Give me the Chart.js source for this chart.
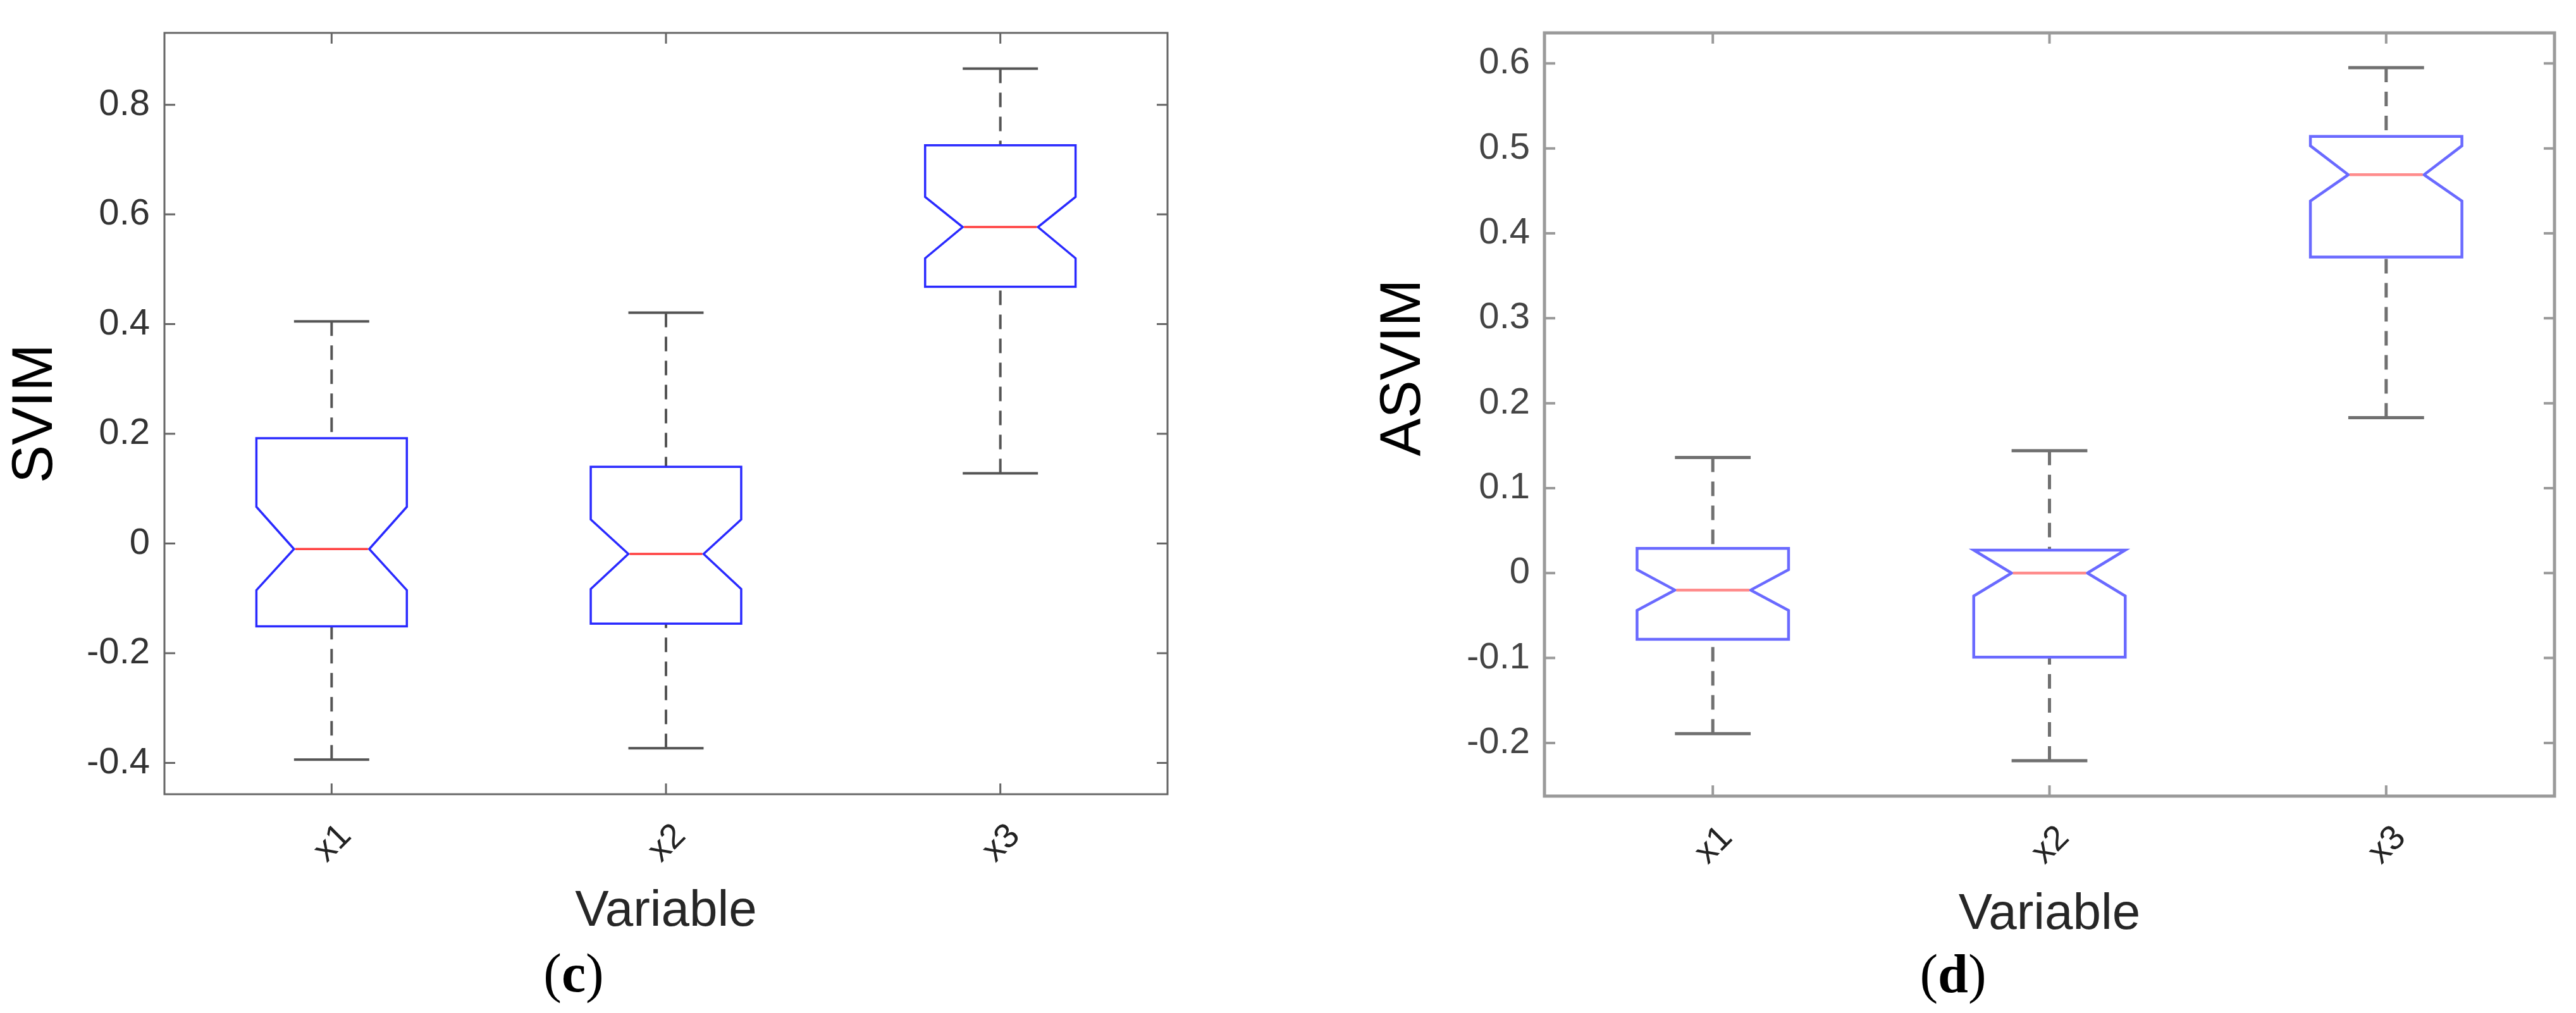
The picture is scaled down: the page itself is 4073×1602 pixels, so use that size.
<!DOCTYPE html>
<html>
<head>
<meta charset="utf-8">
<script src="https://cdn.jsdelivr.net/npm/chart.js@4.4.1/dist/chart.umd.min.js"></script>
<style>
  html, body { margin: 0; padding: 0; background: #fff; }
  body { width: 4073px; height: 1602px; position: relative; overflow: hidden; }
  canvas { position: absolute; top: 0; }
  #panelC { left: 0; }
  #panelD { left: 2040px; }
</style>
</head>
<body>
<canvas id="panelC" width="2040" height="1602"></canvas>
<canvas id="panelD" width="2033" height="1602"></canvas>
<script>
// --- data ---
const variables = ['x1', 'x2', 'x3'];

// (c) SVIM
const svimWhiskerHigh = [0.405, 0.421, 0.866];
const svimQ3          = [0.192, 0.140, 0.726];
const svimNotchHigh   = [0.067, 0.044, 0.632];
const svimMedian      = [-0.010, -0.019, 0.577];
const svimNotchLow    = [-0.085, -0.083, 0.520];
const svimQ1          = [-0.151, -0.146, 0.468];
const svimWhiskerLow  = [-0.394, -0.373, 0.128];
const svimTicks       = [-0.4, -0.2, 0, 0.2, 0.4, 0.6, 0.8];

// (d) ASVIM
const asvimWhiskerHigh = [0.136, 0.144, 0.595];
const asvimQ3          = [0.029, 0.027, 0.514];
const asvimNotchHigh   = [0.004, 0.027, 0.503];
const asvimMedian      = [-0.020, 0.000, 0.469];
const asvimNotchLow    = [-0.044, -0.027, 0.438];
const asvimQ1          = [-0.078, -0.099, 0.372];
const asvimWhiskerLow  = [-0.189, -0.221, 0.183];
const asvimTicks       = [-0.2, -0.1, 0, 0.1, 0.2, 0.3, 0.4, 0.5, 0.6];

Chart.defaults.font.family = '"Liberation Sans", Arial, sans-serif';

// draws the frame, inward ticks, notched boxes and the texts
const notchedBoxPlugin = {
    id: 'notchedBox',
    afterDraw(chart, args, o) {
        const { ctx, chartArea: a, scales: { x, y } } = chart;
        const s = o.stats;
        const step = x.getPixelForValue(2) - x.getPixelForValue(1);
        const w = o.boxWidth * step;
        ctx.save();

        // whiskers, caps, boxes
        variables.forEach((name, i) => {
            const cx = x.getPixelForValue(i + 1);
            const L = cx - w / 2, R = cx + w / 2, n = w / 4;
            const py = v => y.getPixelForValue(v);

            ctx.strokeStyle = o.whiskerColor;
            ctx.lineWidth = o.whiskerWidth;
            ctx.setLineDash([23, 15]);
            ctx.beginPath();
            ctx.moveTo(cx, py(s.whiskerHigh[i]));
            ctx.lineTo(cx, py(s.q3[i]));
            ctx.moveTo(cx, py(s.whiskerLow[i]));
            ctx.lineTo(cx, py(s.q1[i]));
            ctx.stroke();
            ctx.setLineDash([]);

            ctx.beginPath();
            ctx.moveTo(cx - n, py(s.whiskerHigh[i]));
            ctx.lineTo(cx + n, py(s.whiskerHigh[i]));
            ctx.moveTo(cx - n, py(s.whiskerLow[i]));
            ctx.lineTo(cx + n, py(s.whiskerLow[i]));
            ctx.stroke();

            ctx.strokeStyle = o.boxColor;
            ctx.lineWidth = o.boxWidthPx;
            ctx.lineJoin = 'miter';
            ctx.beginPath();
            ctx.moveTo(L, py(s.q3[i]));
            ctx.lineTo(R, py(s.q3[i]));
            ctx.lineTo(R, py(s.notchHigh[i]));
            ctx.lineTo(R - n, py(s.median[i]));
            ctx.lineTo(R, py(s.notchLow[i]));
            ctx.lineTo(R, py(s.q1[i]));
            ctx.lineTo(L, py(s.q1[i]));
            ctx.lineTo(L, py(s.notchLow[i]));
            ctx.lineTo(L + n, py(s.median[i]));
            ctx.lineTo(L, py(s.notchHigh[i]));
            ctx.closePath();
            ctx.stroke();

            ctx.strokeStyle = o.medianColor;
            ctx.beginPath();
            ctx.moveTo(L + n + 2, py(s.median[i]));
            ctx.lineTo(R - n - 2, py(s.median[i]));
            ctx.stroke();
        });

        // frame and inward ticks
        ctx.strokeStyle = o.frameColor;
        ctx.lineWidth = o.frameWidth;
        ctx.strokeRect(a.left, a.top, a.right - a.left, a.bottom - a.top);
        ctx.lineWidth = o.tickWidth;
        ctx.beginPath();
        y.ticks.forEach(t => {
            const p = y.getPixelForValue(t.value);
            ctx.moveTo(a.left, p); ctx.lineTo(a.left + 17, p);
            ctx.moveTo(a.right, p); ctx.lineTo(a.right - 17, p);
        });
        x.ticks.forEach(t => {
            const p = x.getPixelForValue(t.value);
            ctx.moveTo(p, a.top); ctx.lineTo(p, a.top + 17);
            ctx.moveTo(p, a.bottom); ctx.lineTo(p, a.bottom - 17);
        });
        ctx.stroke();

        // rotated category labels
        ctx.fillStyle = '#222';
        ctx.font = '55px "Liberation Sans"';
        ctx.textAlign = 'center';
        ctx.textBaseline = 'middle';
        x.ticks.forEach(t => {
            ctx.save();
            ctx.translate(x.getPixelForValue(t.value) + 2, a.bottom + 78);
            ctx.rotate(-Math.PI / 4);
            ctx.fillText(variables[t.value - 1], 0, 0);
            ctx.restore();
        });

        // axis titles
        const midX = (a.left + a.right) / 2, midY = (a.top + a.bottom) / 2;
        ctx.fillStyle = '#262626';
        ctx.font = '80px "Liberation Sans"';
        ctx.textBaseline = 'alphabetic';
        ctx.fillText('Variable', midX, a.bottom + o.xTitleGap);

        ctx.save();
        ctx.fillStyle = '#000';
        ctx.font = '90px "Liberation Sans"';
        ctx.textBaseline = 'middle';
        ctx.translate(o.yTitleX, midY + o.yTitleShift);
        ctx.rotate(-Math.PI / 2);
        ctx.fillText(o.yTitle, 0, 0);
        ctx.restore();

        // panel letter, e.g. (c)
        const size = 86;
        const reg = size + 'px "Liberation Serif"', bold = 'bold ' + size + 'px "Liberation Serif"';
        ctx.fillStyle = '#000';
        ctx.textAlign = 'left';
        ctx.font = reg;
        const wo = ctx.measureText('(').width, wc = ctx.measureText(')').width;
        ctx.font = bold;
        const wl = ctx.measureText(o.letter).width;
        let lx = o.letterX - (wo + wl + wc) / 2;
        ctx.font = reg; ctx.fillText('(', lx, o.letterBase); lx += wo;
        ctx.font = bold; ctx.fillText(o.letter, lx, o.letterBase); lx += wl;
        ctx.font = reg; ctx.fillText(')', lx, o.letterBase);

        ctx.restore();
    }
};

function makePanel(id, p) {
    const canvas = document.getElementById(id);
    return new Chart(canvas, {
        type: 'scatter',
        data: {
            datasets: [{
                data: p.style.stats.median.map((m, i) => ({ x: i + 1, y: m })),
                pointRadius: 0
            }]
        },
        options: {
            responsive: false,
            animation: false,
            devicePixelRatio: 1,
            layout: { padding: { top: p.area.top, right: canvas.width - p.area.right, left: 0, bottom: 0 } },
            plugins: {
                legend: { display: false },
                tooltip: { enabled: false },
                notchedBox: p.style
            },
            scales: {
                x: {
                    type: 'linear', min: 0.5, max: 3.5,
                    afterBuildTicks: s => { s.ticks = variables.map((v, i) => ({ value: i + 1 })); },
                    afterFit: s => { s.height = canvas.height - p.area.bottom; },
                    ticks: { display: false },
                    grid: { display: false, drawTicks: false },
                    border: { display: false }
                },
                y: {
                    min: p.yMin, max: p.yMax,
                    afterBuildTicks: s => { s.ticks = p.ticks.map(v => ({ value: v })); },
                    afterFit: s => { s.width = p.area.left; },
                    ticks: {
                        color: p.style.textColor,
                        padding: 23,
                        font: { size: 58, lineHeight: 1 },
                        callback: v => String(v)
                    },
                    grid: { display: false, drawTicks: false },
                    border: { display: false }
                }
            }
        },
        plugins: [notchedBoxPlugin]
    });
}

makePanel('panelC', {
    area: { left: 260, right: 1846, top: 39, bottom: 1256 },
    yMin: -0.457, yMax: 0.931,
    ticks: svimTicks,
    style: {
        stats: {
            whiskerHigh: svimWhiskerHigh, q3: svimQ3, notchHigh: svimNotchHigh, median: svimMedian,
            notchLow: svimNotchLow, q1: svimQ1, whiskerLow: svimWhiskerLow
        },
        boxWidth: 0.45, boxColor: '#2a2aff', medianColor: '#ff4040', boxWidthPx: 3.5,
        whiskerColor: '#555', whiskerWidth: 4,
        frameColor: '#666', frameWidth: 3, tickWidth: 3,
        textColor: '#333',
        yTitle: 'SVIM', yTitleX: 57, yTitleShift: 0,
        xTitleGap: 208,
        letter: 'c', letterX: 907, letterBase: 1568
    }
});

makePanel('panelD', {
    area: { left: 402, right: 1999, top: 38, bottom: 1259 },
    yMin: -0.2626, yMax: 0.636,
    ticks: asvimTicks,
    style: {
        stats: {
            whiskerHigh: asvimWhiskerHigh, q3: asvimQ3, notchHigh: asvimNotchHigh, median: asvimMedian,
            notchLow: asvimNotchLow, q1: asvimQ1, whiskerLow: asvimWhiskerLow
        },
        boxWidth: 0.45, boxColor: '#6a6aff', medianColor: '#ff8c8c', boxWidthPx: 4.5,
        whiskerColor: '#707070', whiskerWidth: 5,
        frameColor: '#9a9a9a', frameWidth: 5, tickWidth: 4,
        textColor: '#444',
        yTitle: 'ASVIM', yTitleX: 180, yTitleShift: -74,
        xTitleGap: 210,
        letter: 'd', letterX: 1048, letterBase: 1569
    }
});
</script>
</body>
</html>
